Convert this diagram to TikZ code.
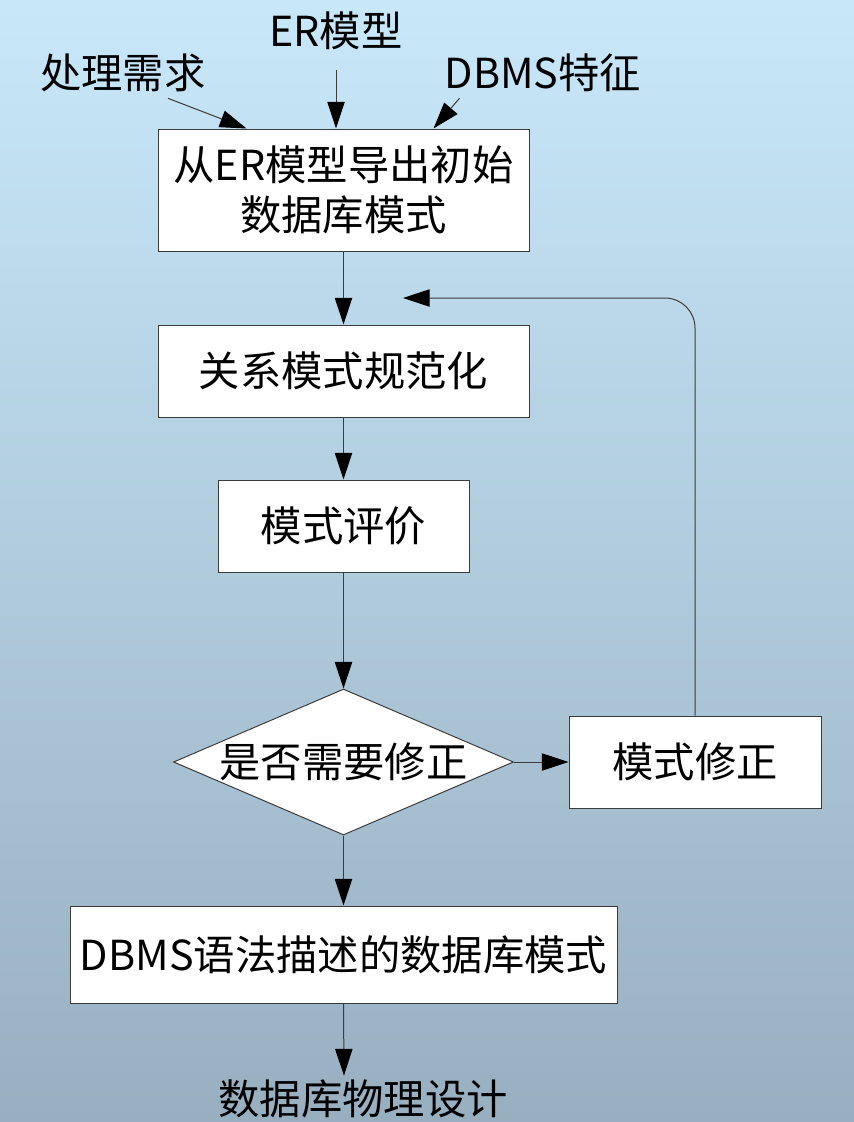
\documentclass[tikz,border=0pt]{standalone}
\usepackage{fontspec}
\setmainfont{Noto Sans CJK SC}
\usepackage{tikz}
\usetikzlibrary{shapes.geometric}
\usetikzlibrary{arrows.meta}
\usetikzlibrary{calc}
\definecolor{skytop}{HTML}{C8E8FA}
\definecolor{skybottom}{HTML}{98AFC0}
\definecolor{linegray}{HTML}{3C3C3C}
\tikzstyle{proc}=[rectangle,draw=linegray,fill=white,inner sep=0mm,align=center]
\tikzstyle{decide}=[diamond,draw=linegray,fill=white,inner sep=0mm,aspect=2.33,minimum width=255pt,minimum height=109.5pt]
\tikzstyle{txt}=[inner sep=1mm]
\tikzstyle{arrow}=[draw=linegray,-{Triangle[length=20pt,width=13pt,color=black]}]
\tikzset{every picture/.style={
    line width=0.75pt
  }
}

\begin{document}
\begin{tikzpicture}[x=0.75pt,y=-0.75pt,every node/.style={font=\fontsize{31pt}{38pt}\selectfont}]
      \useasboundingbox (0,0) rectangle (854,1122);
      \clip (0,0) rectangle (854,1122);
      \fill[top color=skytop,bottom color=skybottom] (0,0) rectangle (854,1122);
      % inputs
      \node[txt] at (123,73) (req) {处理需求};
      \node[txt] at (336,31) (er) {ER模型};
      \node[txt] at (543,73) (dbms) {DBMS特征};
      % main flow
      \node[proc,minimum width=278.25pt,minimum height=91.5pt] at (343.5,190) (init) {从ER模型导出初始\\数据库模式};
      \node[proc,minimum width=278.25pt,minimum height=69pt] at (343.5,371) (norm) {关系模式规范化};
      \node[proc,minimum width=188.25pt,minimum height=69pt] at (343.5,526) (eval) {模式评价};
      \node[decide] at (343.5,762) (need) {是否需要修正};
      \node[proc,minimum width=189pt,minimum height=69pt] at (695,762) (fix) {模式修正};
      \node[proc,minimum width=410.25pt,minimum height=72.75pt] at (343.5,954.5) (final) {DBMS语法描述的数据库模式};
      \node[txt] at (363,1099) (phys) {数据库物理设计};
      \coordinate (back) at (403,298);
      \draw[arrow] ($(req.south)+(45,2)$)--($(init.north)+(-97,0)$);
      \draw[arrow,shorten <=12pt] (er.south)--(er.south |- init.north);
      \draw[arrow] ($(dbms.south west)+(19,2)$)--($(init.north)+(90,0)$);
      \draw[arrow] (init)--(norm);
      \draw[arrow] (norm)--(eval);
      \draw[arrow] (eval)--(need);
      \draw[arrow] (need)--(fix);
      \draw[arrow] (need)--(final);
      \draw[arrow] (final.south)--($(phys.north)+(-19,0)$);
      \draw[arrow,rounded corners=22.5pt] (fix.north)|-(back);
    \end{tikzpicture}
\end{document}
